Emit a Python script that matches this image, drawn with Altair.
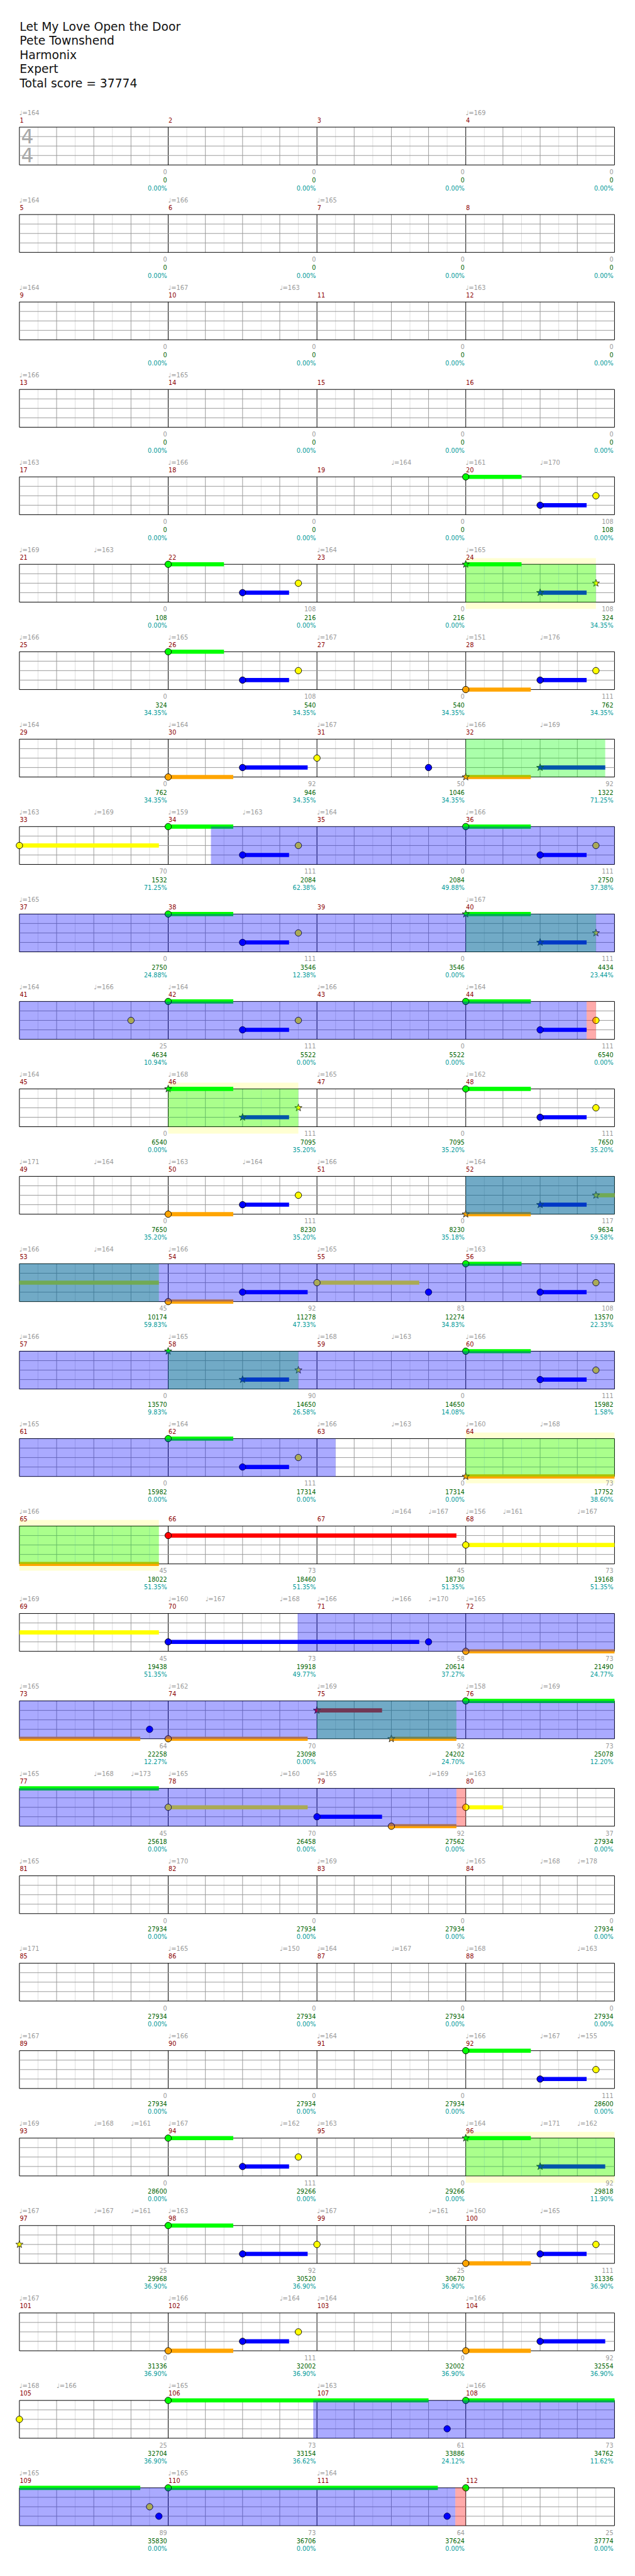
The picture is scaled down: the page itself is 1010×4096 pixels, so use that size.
import altair as alt
import pandas as pd

# ---------------- data ----------------
TITLE_LINES = ["Let My Love Open the Door", "Pete Townshend", "Harmonix", "Expert",
               "Total score = 37774"]

# tempo markers per row of four measures: (beat within row, bpm)
TEMPOS = [
    [(0, 164), (12, 169)],
    [(0, 164), (4, 166), (8, 165)],
    [(0, 164), (4, 167), (7, 163), (12, 163)],
    [(0, 166), (4, 165)],
    [(0, 163), (4, 166), (10, 164), (12, 161), (14, 170)],
    [(0, 169), (2, 163), (8, 164), (12, 165)],
    [(0, 166), (4, 165), (8, 167), (12, 151), (14, 176)],
    [(0, 164), (4, 164), (8, 167), (12, 166), (14, 169)],
    [(0, 163), (2, 169), (4, 159), (6, 163), (8, 164), (12, 166)],
    [(0, 165), (12, 167)],
    [(0, 164), (2, 166), (4, 164), (8, 166), (12, 164)],
    [(0, 164), (4, 168), (8, 165), (12, 162)],
    [(0, 171), (2, 164), (4, 163), (6, 164), (8, 166), (12, 164)],
    [(0, 166), (2, 164), (4, 166), (8, 165), (12, 163)],
    [(0, 166), (4, 165), (8, 168), (10, 163), (12, 166)],
    [(0, 165), (4, 164), (8, 166), (10, 163), (12, 160), (14, 168)],
    [(0, 166), (10, 164), (11, 167), (12, 156), (13, 161), (15, 167)],
    [(0, 169), (4, 160), (5, 167), (7, 168), (8, 166), (10, 166), (11, 170), (12, 165)],
    [(0, 165), (4, 162), (8, 169), (12, 158), (14, 169)],
    [(0, 165), (2, 168), (3, 173), (4, 165), (7, 160), (8, 165), (11, 169), (12, 163)],
    [(0, 165), (4, 170), (8, 169), (12, 165), (14, 168), (15, 178)],
    [(0, 171), (4, 165), (7, 150), (8, 164), (10, 167), (12, 168), (15, 163)],
    [(0, 167), (4, 166), (8, 164), (12, 166), (14, 167), (15, 155)],
    [(0, 169), (2, 168), (3, 161), (4, 167), (7, 162), (8, 163), (12, 164), (14, 171), (15, 162)],
    [(0, 167), (2, 167), (3, 161), (4, 163), (8, 167), (11, 161), (12, 160), (14, 165)],
    [(0, 167), (4, 166), (7, 164), (8, 164), (12, 166)],
    [(0, 168), (1, 166), (4, 165), (8, 163), (12, 166)],
    [(0, 165), (4, 165), (8, 164)],
]

# notes: (row, beat, lane 0=G 1=R 2=Y 3=B 4=O, sustain end beat or None, star, has head)
NOTES = [
    (5, 12, 0, 13.5, False, True), (5, 14, 3, 15.25, False, True), (5, 15.5, 2, None, False, True),
    (6, 4, 0, 5.5, False, True), (6, 6, 3, 7.25, False, True), (6, 7.5, 2, None, False, True),
    (6, 12, 0, 13.5, True, True), (6, 14, 3, 15.25, True, True), (6, 15.5, 2, None, True, True),
    (7, 4, 0, 5.5, False, True), (7, 6, 3, 7.25, False, True), (7, 7.5, 2, None, False, True),
    (7, 12, 4, 13.75, False, True), (7, 14, 3, 15.25, False, True), (7, 15.5, 2, None, False, True),
    (8, 4, 4, 5.75, False, True), (8, 6, 3, 7.75, False, True), (8, 8, 2, None, False, True),
    (8, 11, 3, None, False, True), (8, 12, 4, 13.75, True, True), (8, 14, 3, 15.75, True, True),
    (9, 0, 2, 3.75, False, True), (9, 4, 0, 5.75, False, True), (9, 6, 3, 7.25, False, True),
    (9, 7.5, 2, None, False, True), (9, 12, 0, 13.75, False, True), (9, 14, 3, 15.25, False, True),
    (9, 15.5, 2, None, False, True),
    (10, 4, 0, 5.75, False, True), (10, 6, 3, 7.25, False, True), (10, 7.5, 2, None, False, True),
    (10, 12, 0, 13.75, True, True), (10, 14, 3, 15.25, True, True), (10, 15.5, 2, None, True, True),
    (11, 3, 2, None, False, True), (11, 4, 0, 5.75, False, True), (11, 6, 3, 7.25, False, True),
    (11, 7.5, 2, None, False, True), (11, 12, 0, 13.75, False, True), (11, 14, 3, 15.25, False, True),
    (11, 15.5, 2, None, False, True),
    (12, 4, 0, 5.75, True, True), (12, 6, 3, 7.25, True, True), (12, 7.5, 2, None, True, True),
    (12, 12, 0, 13.75, False, True), (12, 14, 3, 15.25, False, True), (12, 15.5, 2, None, False, True),
    (13, 4, 4, 5.75, False, True), (13, 6, 3, 7.25, False, True), (13, 7.5, 2, None, False, True),
    (13, 12, 4, 13.75, True, True), (13, 14, 3, 15.25, True, True), (13, 15.5, 2, 16, True, True),
    (14, 0, 2, 3.75, False, False), (14, 4, 4, 5.75, False, True), (14, 6, 3, 7.75, False, True),
    (14, 8, 2, 10.75, False, True), (14, 11, 3, None, False, True), (14, 12, 0, 13.5, False, True),
    (14, 14, 3, 15.25, False, True), (14, 15.5, 2, None, False, True),
    (15, 4, 0, None, True, True), (15, 6, 3, 7.25, True, True), (15, 7.5, 2, None, True, True),
    (15, 12, 0, 13.75, False, True), (15, 14, 3, 15.25, False, True), (15, 15.5, 2, None, False, True),
    (16, 4, 0, 5.75, False, True), (16, 6, 3, 7.25, False, True), (16, 7.5, 2, None, False, True),
    (16, 12, 4, 16, True, True),
    (17, 0, 4, 3.75, False, False), (17, 4, 1, 11.75, False, True), (17, 12, 2, 16, False, True),
    (18, 0, 2, 3.75, False, False), (18, 4, 3, 10.75, False, True), (18, 11, 3, None, False, True),
    (18, 12, 4, 16, False, True),
    (19, 0, 4, 3.25, False, False), (19, 3.5, 3, None, False, True), (19, 4, 4, 7.75, False, True),
    (19, 8, 1, 9.75, True, True), (19, 10, 4, 11.75, True, True), (19, 12, 0, 16, False, True),
    (20, 0, 0, 3.75, False, False), (20, 4, 2, 7.75, False, True), (20, 8, 3, 9.75, False, True),
    (20, 10, 4, 11.75, False, True), (20, 12, 2, 13, False, True),
    (23, 12, 0, 13.75, False, True), (23, 14, 3, 15.25, False, True), (23, 15.5, 2, None, False, True),
    (24, 4, 0, 5.75, False, True), (24, 6, 3, 7.25, False, True), (24, 7.5, 2, None, False, True),
    (24, 12, 0, 13.75, True, True), (24, 14, 3, 15.75, True, True),
    (25, 0, 2, None, True, True), (25, 4, 0, 5.75, False, True), (25, 6, 3, 7.75, False, True),
    (25, 8, 2, None, False, True), (25, 12, 4, 13.75, False, True), (25, 14, 3, 15.25, False, True),
    (25, 15.5, 2, None, False, True),
    (26, 4, 4, 5.75, False, True), (26, 6, 3, 7.25, False, True), (26, 7.5, 2, None, False, True),
    (26, 12, 4, 13.75, False, True), (26, 14, 3, 15.75, False, True),
    (27, 0, 2, None, False, True), (27, 4, 0, 11.0, False, True), (27, 11.5, 3, None, False, True),
    (27, 12, 0, 16, False, True),
    (28, 0, 0, 3.25, False, False), (28, 3.5, 2, None, False, True), (28, 3.75, 3, None, False, True),
    (28, 4, 0, 11.25, False, True), (28, 11.5, 3, None, False, True), (28, 12, 0, None, False, True),
]

# shaded zones: (row, start beat, end beat)
YELLOW_ZONES = [(6, 12, 15.5), (12, 4, 7.5), (16, 12, 16), (17, 0, 3.75), (24, 12, 16)]
GREEN_ZONES = [(6, 12, 15.5), (8, 12, 15.75), (10, 12, 15.5), (12, 4, 7.5), (13, 12, 16),
               (14, 0, 3.75), (15, 4, 7.5), (16, 12, 16), (17, 0, 3.75), (19, 8, 11.75),
               (24, 12, 16)]
BLUE_ZONES = [(9, 5.15, 16), (10, 0, 16), (11, 0, 15.25), (13, 12, 16), (14, 0, 16), (15, 0, 16),
              (16, 0, 8.5), (18, 7.48, 16), (19, 0, 16), (20, 0, 11.75), (27, 7.9, 16),
              (28, 0, 11.72)]
PINK_ZONES = [(11, 15.25, 15.5), (20, 11.75, 12), (28, 11.72, 12)]

# per-measure labels, one list of four per row
Z4 = [0, 0, 0, 0]
MEASURE_SCORE = [Z4, Z4, Z4, Z4,
                 [0, 0, 0, 108], [0, 108, 0, 108], [0, 108, 0, 111], [0, 92, 50, 92],
                 [70, 111, 0, 111], [0, 111, 0, 111], [25, 111, 0, 111], [0, 111, 0, 111],
                 [0, 111, 0, 117], [45, 92, 83, 108], [0, 90, 0, 111], [0, 111, 0, 73],
                 [45, 73, 45, 73], [45, 73, 58, 73], [64, 70, 92, 73], [45, 70, 92, 37],
                 Z4, Z4, [0, 0, 0, 111], [0, 111, 0, 92],
                 [25, 92, 25, 111], [0, 111, 0, 92], [25, 73, 61, 73], [89, 73, 64, 25]]
TOTAL_SCORE = [Z4, Z4, Z4, Z4,
               [0, 0, 0, 108], [108, 216, 216, 324], [324, 540, 540, 762], [762, 946, 1046, 1322],
               [1532, 2084, 2084, 2750], [2750, 3546, 3546, 4434], [4634, 5522, 5522, 6540],
               [6540, 7095, 7095, 7650], [7650, 8230, 8230, 9634], [10174, 11278, 12274, 13570],
               [13570, 14650, 14650, 15982], [15982, 17314, 17314, 17752],
               [18022, 18460, 18730, 19168], [19438, 19918, 20614, 21490],
               [22258, 23098, 24202, 25078], [25618, 26458, 27562, 27934],
               [27934, 27934, 27934, 27934], [27934, 27934, 27934, 27934],
               [27934, 27934, 27934, 28600], [28600, 29266, 29266, 29818],
               [29968, 30520, 30670, 31336], [31336, 32002, 32002, 32554],
               [32704, 33154, 33886, 34762], [35830, 36706, 37624, 37774]]
PERCENT = [Z4, Z4, Z4, Z4, Z4,
           [0, 0, 0, 34.35], [34.35, 34.35, 34.35, 34.35], [34.35, 34.35, 34.35, 71.25],
           [71.25, 62.38, 49.88, 37.38], [24.88, 12.38, 0, 23.44], [10.94, 0, 0, 0],
           [0, 35.20, 35.20, 35.20], [35.20, 35.20, 35.18, 59.58], [59.83, 47.33, 34.83, 22.33],
           [9.83, 26.58, 14.08, 1.58], [0, 0, 0, 38.60], [51.35, 51.35, 51.35, 51.35],
           [51.35, 49.77, 37.27, 24.77], [12.27, 0, 24.70, 12.20], Z4,
           Z4, Z4, Z4, [0, 0, 0, 11.90],
           [36.90, 36.90, 36.90, 36.90], [36.90, 36.90, 36.90, 36.90],
           [36.90, 36.62, 24.12, 11.62], Z4]

LANE_COLORS = ["#00ff00", "#ff0000", "#ffff00", "#0000ff", "#ffa500"]

# ---------------- layout (reference pixels, scaled by S) ----------------
S = 0.986
OFF = 8
W, H = 994, 4080
STAFF_X0, BEAT_W = 31.3, 60.0
ROW0, PITCH, STAFF_H = 205.0, 141.0, 61.0
N_ROWS = 28
FONT = "DejaVu Sans"
STAR_PATH = ("M0,-1L0.235,-0.324L0.951,-0.309L0.38,0.124L0.588,0.809L0,0.4"
             "L-0.588,0.809L-0.38,0.124L-0.951,-0.309L-0.235,-0.324Z")


def top(r):
    return ROW0 + (r - 1) * PITCH


def lane_y(r, lane):
    return top(r) + lane * STAFF_H / 4


xs = alt.Scale(domain=[(OFF / S - STAFF_X0) / BEAT_W, ((W + OFF) / S - STAFF_X0) / BEAT_W],
               nice=False, zero=False)
ys = alt.Scale(domain=[OFF / S, (H + OFF) / S], reverse=True, nice=False, zero=False)


def X(f):
    return alt.X(f, type="quantitative", scale=xs, axis=None)


def X2(f):
    return alt.X2(f)


def Y(f):
    return alt.Y(f, type="quantitative", scale=ys, axis=None)


def Y2(f):
    return alt.Y2(f)


# grid lines
vl = []
hl = []
for r in range(1, N_ROWS + 1):
    t = top(r)
    for k in range(33):
        b = k / 2
        if k % 2 == 1:
            kind = "half"
        elif k in (0, 32):
            kind = "border"
        elif k % 8 == 0:
            kind = "measure"
        else:
            kind = "beat"
        vl.append({"b": b, "y0": t, "y1": t + STAFF_H, "kind": kind})
    for ln in range(5):
        hl.append({"b0": 0, "b1": 16, "y": lane_y(r, ln),
                   "kind": "border" if ln in (0, 4) else "lane"})
order = {"half": 0, "beat": 1, "lane": 1, "measure": 2, "border": 3}
vdf = pd.DataFrame(vl)
vdf["o"] = vdf["kind"].map(order)
vdf = vdf.sort_values("o", kind="stable")
hdf = pd.DataFrame(hl)
hdf["o"] = hdf["kind"].map(order)
hdf = hdf.sort_values("o", kind="stable")

kinds = ["half", "beat", "lane", "measure", "border"]
kcol = alt.Scale(domain=kinds, range=["#dddddd", "#9a9a9a", "#9a9a9a", "#000000", "#000000"])
kw = alt.Scale(domain=kinds, range=[1 * S, 1 * S, 1.3 * S, 1 * S, 2 * S])

vlines = alt.Chart(vdf).mark_rule().encode(
    x=X("b"), y=Y("y0"), y2=Y2("y1"),
    color=alt.Color("kind:N", scale=kcol, legend=None),
    strokeWidth=alt.StrokeWidth("kind:N", scale=kw, legend=None))
hlines = alt.Chart(hdf).mark_rule().encode(
    x=X("b0"), x2=X2("b1"), y=Y("y"),
    color=alt.Color("kind:N", scale=kcol, legend=None),
    strokeWidth=alt.StrokeWidth("kind:N", scale=kw, legend=None))


def zone_df(zones, pad_top=0.0, pad_bot=0.0):
    return pd.DataFrame([{"b0": a, "b1": b, "y0": top(r) - pad_top,
                          "y1": top(r) + STAFF_H + pad_bot} for r, a, b in zones])


def zone_layer(df, color, opacity):
    return alt.Chart(df).mark_rect(color=color, opacity=opacity).encode(
        x=X("b0"), x2=X2("b1"), y=Y("y0"), y2=Y2("y1"))


yellow = zone_layer(zone_df(YELLOW_ZONES, 10, 11), "#ffffd2", 1.0)
green = zone_layer(zone_df(GREEN_ZONES), "#00ff00", 1 / 3)
blue = zone_layer(zone_df(BLUE_ZONES), "#0000ff", 1 / 3)
pink = zone_layer(zone_df(PINK_ZONES), "#ff0000", 1 / 3)

lane_scale = alt.Scale(domain=[0, 1, 2, 3, 4], range=LANE_COLORS)

sus = pd.DataFrame([{"b0": b, "b1": e, "y0": lane_y(r, ln) - 3.35, "y1": lane_y(r, ln) + 3.35,
                     "lane": ln} for r, b, ln, e, st, hd in NOTES if e is not None])
sustains = alt.Chart(sus).mark_rect().encode(
    x=X("b0"), x2=X2("b1"), y=Y("y0"), y2=Y2("y1"),
    color=alt.Color("lane:O", scale=lane_scale, legend=None))

heads = pd.DataFrame([{"b": b, "y": lane_y(r, ln), "lane": ln}
                      for r, b, ln, e, st, hd in NOTES if hd and not st])
stars = pd.DataFrame([{"b": b, "y": lane_y(r, ln), "lane": ln}
                      for r, b, ln, e, st, hd in NOTES if hd and st])
head_layer = alt.Chart(heads).mark_point(shape="circle", filled=True, size=110 * S * S,
                                         stroke="black", strokeWidth=0.9, opacity=1).encode(
    x=X("b"), y=Y("y"), fill=alt.Fill("lane:O", scale=lane_scale, legend=None))
star_layer = alt.Chart(stars).mark_point(shape=STAR_PATH, filled=True, size=150 * S * S,
                                         stroke="#222222", strokeWidth=0.9, opacity=1).encode(
    x=X("b"), y=Y("y"), fill=alt.Fill("lane:O", scale=lane_scale, legend=None))

# texts
title_df = pd.DataFrame({"t": TITLE_LINES, "b": [0.007] * 5,
                         "y": [50, 72.5, 95, 117.5, 141]})
title = alt.Chart(title_df).mark_text(align="left", baseline="alphabetic", font=FONT,
                                      fontSize=19 * S, color="#111111").encode(
    x=X("b"), y=Y("y"), text="t:N")

ts_df = pd.DataFrame({"t": ["4", "4"], "b": [0.215, 0.215], "y": [231, 261.5]})
timesig = alt.Chart(ts_df).mark_text(align="center", baseline="alphabetic", font=FONT,
                                     fontSize=32 * S, color="#a8a8a8").encode(
    x=X("b"), y=Y("y"), text="t:N")

mrows = []
for m in range(1, 4 * N_ROWS + 1):
    r = (m - 1) // 4 + 1
    p = (m - 1) % 4
    t = top(r)
    mrows.append({"m": str(m), "b": 4 * p + 0.01, "y": t - 7.7,
                  "be": 4 * (p + 1) - 0.03,
                  "g": str(MEASURE_SCORE[r - 1][p]), "yg": t + 76,
                  "s": str(TOTAL_SCORE[r - 1][p]), "ys": t + 89.5,
                  "p": f"{PERCENT[r - 1][p]:.2f}%", "yp": t + 102})
mdf = pd.DataFrame(mrows)
mnum = alt.Chart(mdf).mark_text(align="left", baseline="alphabetic", font=FONT,
                                fontSize=9.8 * S, color="#8b0000").encode(
    x=X("b"), y=Y("y"), text="m:N")
gscore = alt.Chart(mdf).mark_text(align="right", baseline="alphabetic", font=FONT,
                                  fontSize=9.8 * S, color="#999999").encode(
    x=X("be"), y=Y("yg"), text="g:N")
tscore = alt.Chart(mdf).mark_text(align="right", baseline="alphabetic", font=FONT,
                                  fontSize=9.8 * S, color="#006400").encode(
    x=X("be"), y=Y("ys"), text="s:N")
pscore = alt.Chart(mdf).mark_text(align="right", baseline="alphabetic", font=FONT,
                                  fontSize=9.8 * S, color="#009999").encode(
    x=X("be"), y=Y("yp"), text="p:N")

trows = []
for i, row in enumerate(TEMPOS):
    for b, bpm in row:
        trows.append({"b": b, "y": top(i + 1) - 19.7, "t": f"\u2669={bpm}"})
tdf = pd.DataFrame(trows)
tempo = alt.Chart(tdf).mark_text(align="left", baseline="alphabetic", font=FONT,
                                 fontSize=10 * S, color="#999999").encode(
    x=X("b"), y=Y("y"), text="t:N")

chart = alt.layer(
    yellow, vlines, hlines, sustains, head_layer, star_layer, green, blue, pink,
    title, timesig, mnum, tempo, gscore, tscore, pscore
).resolve_scale(color="independent", strokeWidth="independent", fill="independent").properties(
    width=W, height=H, padding=0, autosize=alt.AutoSizeParams(type="none")
).configure_view(strokeWidth=0)

chart.save("out.html", embed_options={"renderer": "svg", "actions": False})
